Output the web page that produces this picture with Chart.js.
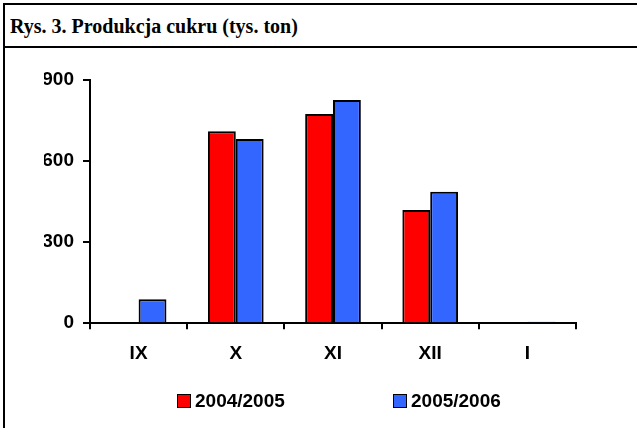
<!DOCTYPE html>
<html>
<head>
<meta charset="utf-8">
<title>Rys. 3. Produkcja cukru</title>
<script src="https://cdn.jsdelivr.net/npm/chart.js@4/dist/chart.umd.min.js"></script>
<style>
  html, body {
    margin: 0;
    padding: 0;
    background: #fff;
  }
  #page {
    position: relative;
    width: 637px;
    height: 428px;
    overflow: hidden;
  }
  #frame {
    position: absolute;
    left: 3px;
    top: 3px;
    width: 640px;
    height: 430px;
    border-left: 2px solid #000;
    border-top: 2px solid #000;
  }
  #title {
    position: absolute;
    left: 10px;
    top: 6px;
    height: 41px;
    line-height: 41px;
    font-family: "Liberation Serif", "Times New Roman", serif;
    font-weight: bold;
    font-size: 20px;
    color: #000;
    white-space: nowrap;
  }
  #rule {
    position: absolute;
    left: 3px;
    top: 46px;
    width: 640px;
    height: 2px;
    background: #000;
  }
  #chart-box {
    position: absolute;
    left: 7px;
    top: 52px;
    width: 630px;
    height: 376px;
  }
  #legend {
    position: absolute;
    top: 393px;
    left: 0;
    width: 637px;
    height: 18px;
    font-family: "Liberation Sans", Arial, sans-serif;
    font-weight: bold;
    font-size: 19px;
    color: #000;
  }
  .legend-item {
    position: absolute;
    top: 0;
    white-space: nowrap;
    line-height: 16px;
  }
  .legend-box {
    display: inline-block;
    width: 12px;
    height: 12px;
    border: 1px solid #000;
    vertical-align: top;
    margin-top: 1px;
    margin-right: 4px;
  }
</style>
</head>
<body>
<div id="page">
  <div id="frame"></div>
  <div id="title">Rys. 3. Produkcja cukru (tys. ton)</div>
  <div id="rule"></div>
  <div id="chart-box"><canvas id="myChart" width="630" height="376"></canvas></div>
  <div id="legend"></div>
</div>
<script>
"use strict";

// months of the campaign
const months = ["IX", "X", "XI", "XII", "I"];

// sugar production, thousand tonnes
const season0405 = [0, 710, 774, 419, 0];
const season0506 = [89, 682, 826, 486, 5];

const seriesNames = ["2004/2005", "2005/2006"];
const seriesColors = ["#ff0000", "#3366ff"];

const yTicks = [0, 300, 600, 900];

const labelFont = {
  family: "'Liberation Sans', Arial, sans-serif",
  size: 19,
  weight: "bold",
};

const ctx = document.getElementById("myChart").getContext("2d");

const myChart = new Chart(ctx, {
  type: "bar",
  data: {
    labels: months,
    datasets: [
      {
        label: seriesNames[0],
        data: season0405,
        backgroundColor: seriesColors[0],
        borderColor: "#000",
        borderWidth: 2,
        borderSkipped: "bottom",
      },
      {
        label: seriesNames[1],
        data: season0506,
        backgroundColor: seriesColors[1],
        borderColor: "#000",
        borderWidth: 2,
        borderSkipped: "bottom",
      },
    ],
  },
  options: {
    responsive: false,
    animation: false,
    layout: {
      padding: { left: 37, right: 61, top: 28, bottom: 50 },
    },
    datasets: {
      bar: {
        categoryPercentage: 0.573,
        barPercentage: 1,
      },
    },
    plugins: {
      legend: { display: false },
      tooltip: { enabled: false },
      title: { display: false },
    },
    scales: {
      x: {
        offset: true,
        grid: {
          offset: true,
          drawOnChartArea: false,
          drawTicks: true,
          tickLength: 6,
          color: "#000",
          lineWidth: 2,
        },
        border: { display: true, color: "#000", width: 2 },
        ticks: {
          color: "#000",
          font: labelFont,
          padding: 13,
          maxRotation: 0,
        },
      },
      y: {
        min: 0,
        max: 900,
        afterBuildTicks: (scale) => {
          scale.ticks = yTicks.map((v) => ({ value: v }));
        },
        afterFit: (scale) => {
          scale.width = 46;
        },
        grid: {
          drawOnChartArea: false,
          drawTicks: true,
          tickLength: 7,
          color: "#000",
          lineWidth: 2,
        },
        border: { display: true, color: "#000", width: 2 },
        ticks: {
          color: "#000",
          font: labelFont,
          padding: 9,
        },
      },
    },
  },
});

// legend drawn as html, built from the chart's own datasets
let legendEl = document.getElementById("legend");
const legendLeft = [177, 393];
myChart.data.datasets.forEach((ds, i) => {
  let item = document.createElement("div");
  item.className = "legend-item";
  item.style.left = legendLeft[i] + "px";
  let box = document.createElement("span");
  box.className = "legend-box";
  box.style.background = ds.backgroundColor;
  item.appendChild(box);
  item.appendChild(document.createTextNode(ds.label));
  legendEl.appendChild(item);
});
</script>
</body>
</html>
